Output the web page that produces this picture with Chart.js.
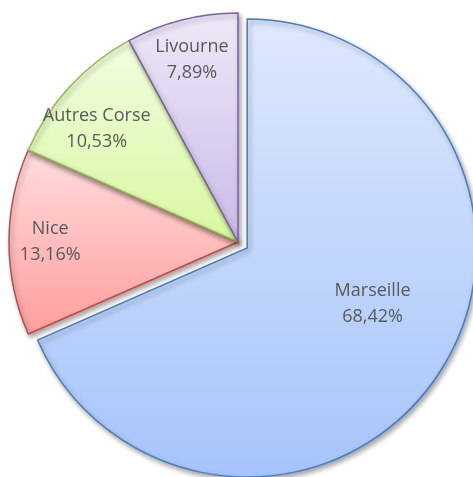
<!DOCTYPE html>
<html>
<head>
<meta charset="utf-8">
<script src="https://cdn.jsdelivr.net/npm/chart.js@4/dist/chart.umd.min.js"></script>
<style>
  html, body { margin: 0; padding: 0; background: #fff; }
  #wrap { width: 473px; height: 477px; }
</style>
</head>
<body>
<div id="wrap"><canvas id="pie"></canvas></div>
<script>
// data
const ports = ["Marseille", "Nice", "Autres Corse", "Livourne"];
const shares = [68.42, 13.16, 10.53, 7.89];
const topColors = ["#dde8fd", "#ffdcdc", "#f1fddf", "#eee8f8"];
const bottomColors = ["#a6c4fa", "#ff9e9e", "#d9f7a2", "#c9bbe8"];
const borderColors = ["#4a7ebb", "#be4b48", "#98b954", "#7d60a0"];
const pullOut = [11, 0, 0, 0]; // px the slice is moved out
const labelRadius = [0.6, 0.82, 0.79, 0.82];
const labelTurn = [-9, 0, -4, 0]; // degrees, nudge from the middle angle

const fmt = (v) => v.toFixed(2).replace(".", ",") + "%";

// vertical gradient over each slice's own height
const sliceGradient = function (context) {
  const chart = context.chart;
  const i = context.dataIndex;
  const ca = chart.chartArea;
  if (!ca) return topColors[i];
  const cy = (ca.top + ca.bottom) / 2;
  const r = 229;
  const total = shares.reduce((a, b) => a + b, 0);
  let before = 0;
  for (let k = 0; k < i; k++) before += shares[k];
  const a0 = (before / total) * 2 * Math.PI;
  const a1 = ((before + shares[i]) / total) * 2 * Math.PI;
  const ys = [cy, cy - r * Math.cos(a0), cy - r * Math.cos(a1)];
  if (a0 <= 0) ys.push(cy - r);
  if (a0 <= Math.PI && a1 >= Math.PI) ys.push(cy + r);
  const g = chart.ctx.createLinearGradient(0, Math.min(...ys), 0, Math.max(...ys));
  g.addColorStop(0, topColors[i]);
  g.addColorStop(1, bottomColors[i]);
  return g;
};

// move a slice out along its middle angle (chart.js offset also grows big slices)
const explode = {
  id: "explode",
  afterUpdate(chart) {
    chart.getDatasetMeta(0).data.forEach((arc, i) => {
      if (arc._wrapped || !pullOut[i]) return;
      const draw = arc.draw.bind(arc);
      arc.draw = function (ctx) {
        const { startAngle, endAngle } = arc.getProps(["startAngle", "endAngle"], true);
        const mid = (startAngle + endAngle) / 2;
        ctx.save();
        ctx.translate(Math.cos(mid) * pullOut[i], Math.sin(mid) * pullOut[i]);
        draw(ctx);
        ctx.restore();
      };
      arc._wrapped = true;
    });
  },
};

// soft shadow under the slices
const sliceShadow = {
  id: "sliceShadow",
  beforeDatasetDraw(chart) {
    const ctx = chart.ctx;
    ctx.save();
    ctx.shadowColor = "rgba(0,0,0,0.35)";
    ctx.shadowBlur = 5;
    ctx.shadowOffsetX = 2;
    ctx.shadowOffsetY = 3;
  },
  afterDatasetDraw(chart) {
    chart.ctx.restore();
  },
};

// name + percent inside each slice
const sliceLabels = {
  id: "sliceLabels",
  afterDatasetsDraw(chart) {
    const ctx = chart.ctx;
    const meta = chart.getDatasetMeta(0);
    ctx.save();
    ctx.font = "18px 'Open Sans'";
    ctx.fillStyle = "#595959";
    ctx.textAlign = "center";
    ctx.textBaseline = "middle";
    meta.data.forEach((arc, i) => {
      const { x, y, startAngle, endAngle, outerRadius } = arc.getProps(
        ["x", "y", "startAngle", "endAngle", "outerRadius"], true);
      const mid = (startAngle + endAngle) / 2;
      const turn = (labelTurn[i] * Math.PI) / 180;
      const d = outerRadius * labelRadius[i];
      const lx = x + Math.cos(mid) * pullOut[i] + Math.cos(mid + turn) * d;
      const ly = y + Math.sin(mid) * pullOut[i] + Math.sin(mid + turn) * d;
      ctx.fillText(ports[i], lx, ly - 13);
      ctx.fillText(fmt(shares[i]), lx, ly + 13);
    });
    ctx.restore();
  },
};

const pie_config = {
  type: "pie",
  data: {
    labels: ports,
    datasets: [
      {
        data: shares,
        backgroundColor: sliceGradient,
        borderColor: borderColors,
        borderWidth: 1.5,
        borderJoinStyle: "miter",
      },
    ],
  },
  options: {
    responsive: true,
    maintainAspectRatio: false,
    animation: false,
    radius: 229,
    layout: { padding: { left: 3, top: 7, right: 0, bottom: 0 } },
    plugins: {
      legend: { display: false },
      tooltip: { enabled: false },
    },
  },
  plugins: [explode, sliceShadow, sliceLabels],
};

const pie_ctx = document.getElementById("pie").getContext("2d");
const myPie = new Chart(pie_ctx, pie_config);
</script>
</body>
</html>
